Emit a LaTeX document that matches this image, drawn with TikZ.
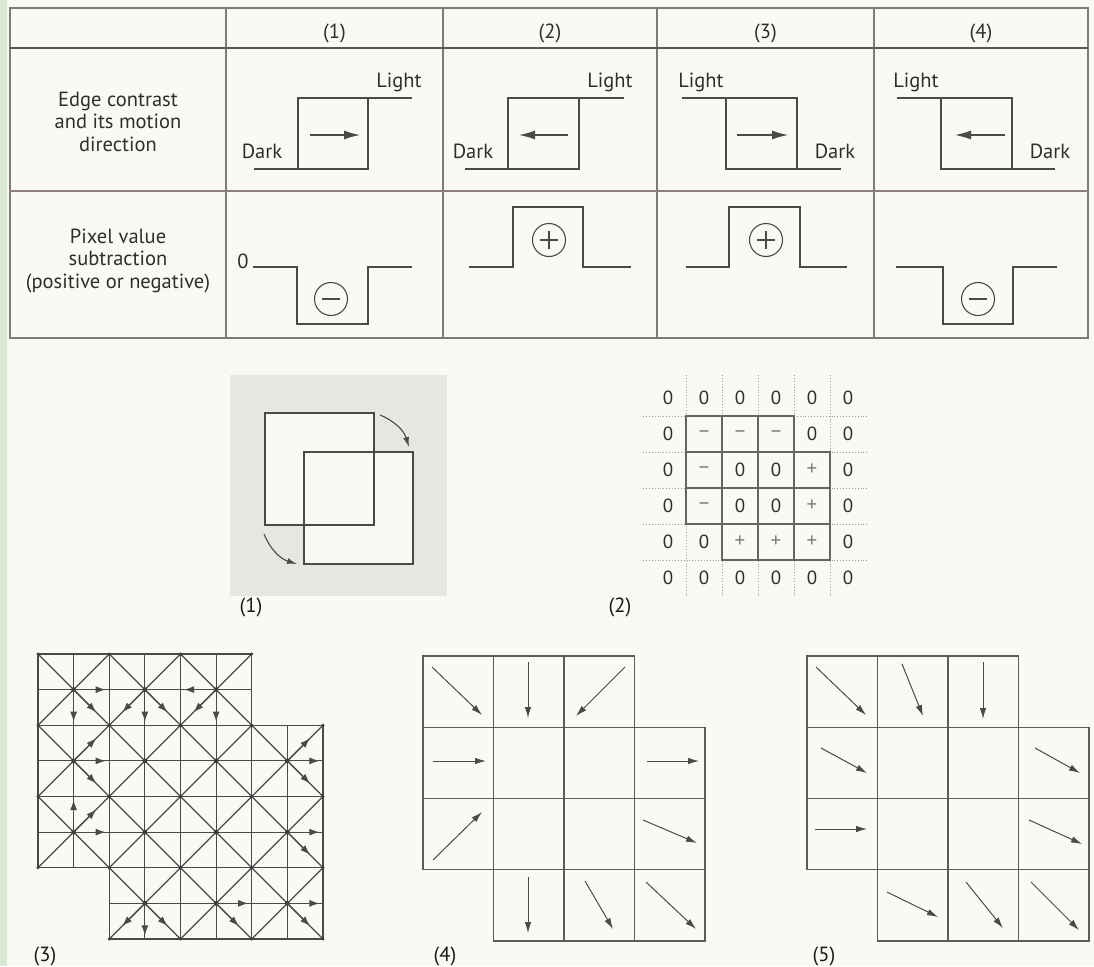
\documentclass[tikz,border=0pt]{standalone}
\usepackage{fontspec}
\setmainfont{PT Sans}
\usetikzlibrary{arrows.meta}
\definecolor{paper}{HTML}{FAFAF5}
\definecolor{strip}{HTML}{D9E8D3}
\definecolor{rule}{HTML}{7C7C7C}
\definecolor{ink}{HTML}{4A4A4A}
\definecolor{txt}{HTML}{2E2E2E}
\definecolor{ruleA}{HTML}{5E5656}
\definecolor{ruleB}{HTML}{927C84}
\definecolor{boxgray}{HTML}{E6E6E3}
\definecolor{dotc}{HTML}{9A9A9A}
\begin{document}
\begin{tikzpicture}[x=1pt,y=-1pt,
  font=\fontsize{20.5}{22.5}\selectfont, text=txt,
  tbl/.style={draw=rule, line width=1.1pt},
  stepl/.style={draw=ink, line width=1.2pt, line join=miter},
  mv/.style={-{Latex[length=16pt,width=9pt]}, draw=ink, line width=1.2pt},
  lbl/.style={anchor=base, inner sep=0pt},
  sgn/.style={draw=ink, line width=1.1pt},
  gthree/.style={draw=ink, line width=1.2pt},
  athree/.style={-{Latex[length=10pt,width=7pt]}, draw=ink, line width=1.2pt},
  gfour/.style={draw=ink!90, line width=1.2pt},
  afour/.style={-{Latex[length=11pt,width=6.5pt]}, draw=ink, line width=1pt},
  dotl/.style={draw=dotc, line width=0.9pt, dotted},
  figlbl/.style={anchor=base, inner sep=0pt, text=black!90},
  cellval/.style={anchor=center, inner sep=0pt, font=\fontsize{19}{19}\selectfont, text=txt},
  cellsign/.style={anchor=center, inner sep=0pt, font=\fontsize{21}{21}\selectfont, text=black!50}
]
% background
\fill[paper] (0,0) rectangle (1094,966);
\fill[strip] (0,0) rectangle (7,966);
\useasboundingbox (0,0) rectangle (1094,966);

% ---------------- table ----------------
\draw[tbl] (10,8) rectangle (1088,338);
\foreach \cx in {226,443,657,874} \draw[tbl] (\cx,8) -- (\cx,338);
\draw[draw=ruleA, line width=1.2pt] (10,48) -- (1088,48);
\draw[draw=ruleB, line width=1.2pt] (10,191) -- (1088,191);

\node[lbl] (h1) at (334.5,38) {(1)};
\node[lbl] (h2) at (550,38) {(2)};
\node[lbl] (h3) at (765.5,38) {(3)};
\node[lbl] (h4) at (981,38) {(4)};

\node[lbl] (ra1) at (118,106) {Edge contrast};
\node[lbl] (ra2) at (118,128.5) {and its motion};
\node[lbl] (ra3) at (118,151) {direction};
\node[lbl] (rb1) at (118,243) {Pixel value};
\node[lbl] (rb2) at (118,265.5) {subtraction};
\node[lbl] (rb3) at (118,288) {(positive or negative)};

% row 1: edges
% (1)
\draw[stepl] (254,169) -- (368,169) -- (368,98);
\draw[stepl] (298,169) -- (298,98) -- (412,98);
\draw[mv] (310,135) -- (360,135);
\node[lbl] (l1) at (399,87) {Light};
\node[lbl] (d1) at (262,158) {Dark};
% (2)
\draw[stepl] (465,169) -- (579,169) -- (579,98);
\draw[stepl] (508,169) -- (508,98) -- (624,98);
\draw[mv] (568,135) -- (519,135);
\node[lbl] (l2) at (610,87) {Light};
\node[lbl] (d2) at (473,158) {Dark};
% (3)
\draw[stepl] (682,98) -- (797,98) -- (797,169);
\draw[stepl] (726,98) -- (726,169) -- (841,169);
\draw[mv] (737,135) -- (788,135);
\node[lbl] (l3) at (701,87) {Light};
\node[lbl] (d3) at (835,158) {Dark};
% (4)
\draw[stepl] (897,98) -- (1012,98) -- (1012,169);
\draw[stepl] (941,98) -- (941,169) -- (1055,169);
\draw[mv] (1005,135) -- (955,135);
\node[lbl] (l4) at (916,87) {Light};
\node[lbl] (d4) at (1050,158) {Dark};

% row 2: subtraction
\node[lbl] (zero) at (243,268) {0};
\draw[stepl] (253,267) -- (297,267) -- (297,324) -- (368,324) -- (368,267) -- (412,267);
\draw[sgn] (331,299) circle[radius=16.5];
\draw[sgn] (322,299) -- (340,299);

\draw[stepl] (469,267) -- (513,267) -- (513,207) -- (583,207) -- (583,267) -- (631,267);
\draw[sgn] (549,240) circle[radius=16.5];
\draw[sgn] (540,240) -- (558,240) (549,231) -- (549,249);

\draw[stepl] (686,267) -- (729,267) -- (729,207) -- (800,207) -- (800,267) -- (847,267);
\draw[sgn] (766,240) circle[radius=16.5];
\draw[sgn] (757,240) -- (775,240) (766,231) -- (766,249);

\draw[stepl] (896,267) -- (943,267) -- (943,324) -- (1013,324) -- (1013,267) -- (1057,267);
\draw[sgn] (978,299) circle[radius=16.5];
\draw[sgn] (969,299) -- (987,299);

% ---------------- figure (1) ----------------
\fill[boxgray] (230,375) rectangle (447,596);
\fill[paper] (265,413) rectangle (374,525);
\fill[paper] (304,452) rectangle (413,564);
\draw[gthree] (265,413) rectangle (374,525);
\draw[gthree] (304,452) rectangle (413,564);
\coordinate (a1s) at (380,415); \coordinate (a1e) at (409,447);
\coordinate (a2s) at (264,534); \coordinate (a2e) at (297,564);
\draw[-{Latex[length=10pt,width=6pt]}, draw=ink, line width=1.1pt] (a1s) to[bend left=25] (a1e);
\draw[-{Latex[length=10pt,width=6pt]}, draw=ink, line width=1.1pt] (a2s) to[bend right=25] (a2e);
\node[figlbl] (f1) at (251,612) {(1)};

% ---------------- figure (2) ----------------
\foreach \gx in {686,722,758,794,830} \draw[dotl] (\gx,375) -- (\gx,598);
\foreach \gy in {416,452,488,524,560} \draw[dotl] (643,\gy) -- (867,\gy);
\foreach \i/\j in {1/1,2/1,3/1,1/2,2/2,3/2,4/2,1/3,2/3,3/3,4/3,2/4,3/4,4/4}
  \draw[draw=ink!85, line width=1.2pt] (650+36*\i,380+36*\j) rectangle ++(36,36);
\foreach \i/\j in {0/0,1/0,2/0,3/0,4/0,5/0, 0/1,4/1,5/1, 0/2,2/2,3/2,5/2, 0/3,2/3,3/3,5/3, 0/4,1/4,5/4, 0/5,1/5,2/5,3/5,4/5,5/5}
  \node[cellval] (v\i\j) at (668+36*\i,398+36*\j) {0};
\foreach \i/\j in {1/1,2/1,3/1,1/2,1/3}
  \node[cellsign] (v\i\j) at (668+36*\i,398+36*\j) {–};
\foreach \i/\j in {4/2,4/3,2/4,3/4,4/4}
  \node[cellsign] (v\i\j) at (668+36*\i,398+36*\j) {+};
\node[figlbl] (f2) at (620,612) {(2)};

% ---------------- figure (3) ----------------
\foreach \i/\j in {0/0,1/0,2/0,0/1,1/1,2/1,3/1,0/2,1/2,2/2,3/2,1/3,2/3,3/3}{
  \draw[gthree] (38+71.25*\i,654+71.25*\j) rectangle ++(71.25,71.25);
  \draw[gthree] (38+71.25*\i,654+71.25*\j) -- ++(71.25,71.25);
  \draw[gthree] (38+71.25*\i+71.25,654+71.25*\j) -- ++(-71.25,71.25);
  \draw[gthree] (38+71.25*\i+35.625,654+71.25*\j) -- ++(0,71.25);
  \draw[gthree] (38+71.25*\i,654+71.25*\j+35.625) -- ++(71.25,0);
  \coordinate (c\i\j) at (38+71.25*\i+35.625,654+71.25*\j+35.625);
  \fill[ink!80!black] (c\i\j) circle[radius=2.4];
}
\foreach \i in {0,...,3} \foreach \j in {0,...,3}
  \fill[ink!80!black] (38+71.25*\i,654+71.25*\j) circle[radius=1.7];
\foreach \i in {1,...,4} \foreach \j in {1,...,4}
  \fill[ink!80!black] (38+71.25*\i,654+71.25*\j) circle[radius=1.7];
% arrows
\draw[athree] (c00) -- ++(32,0);
\draw[athree] (c00) -- ++(22.6,22.6);
\draw[athree] (c00) -- ++(0,32);
\draw[athree] (c10) -- ++(-22.6,22.6);
\draw[athree] (c10) -- ++(0,32);
\draw[athree] (c10) -- ++(22.6,22.6);
\draw[athree] (c20) -- ++(-32,0);
\draw[athree] (c20) -- ++(-22.6,22.6);
\draw[athree] (c20) -- ++(0,32);
\draw[athree] (c01) -- ++(22.6,-22.6);
\draw[athree] (c01) -- ++(32,0);
\draw[athree] (c01) -- ++(22.6,22.6);
\draw[athree] (c31) -- ++(22.6,-22.6);
\draw[athree] (c31) -- ++(32,0);
\draw[athree] (c31) -- ++(22.6,22.6);
\draw[athree] (c02) -- ++(0,-32);
\draw[athree] (c02) -- ++(22.6,-22.6);
\draw[athree] (c02) -- ++(32,0);
\draw[athree] (c32) -- ++(32,0);
\draw[athree] (c32) -- ++(22.6,22.6);
\draw[athree] (c13) -- ++(-22.6,22.6);
\draw[athree] (c13) -- ++(0,32);
\draw[athree] (c13) -- ++(22.6,22.6);
\draw[athree] (c23) -- ++(32,0);
\draw[athree] (c23) -- ++(22.6,22.6);
\draw[athree] (c33) -- ++(32,0);
\draw[athree] (c33) -- ++(22.6,22.6);
\node[figlbl] (f3) at (45,961) {(3)};

% ---------------- figure (4) ----------------
\foreach \i/\j in {0/0,1/0,2/0,0/1,1/1,2/1,3/1,0/2,1/2,2/2,3/2,1/3,2/3,3/3}
  \draw[gfour] (423+70.5*\i,656+71.25*\j) rectangle ++(70.5,71.25);
\draw[afour] (432,667) -- (482,715);
\draw[afour] (528,662) -- (528,718);
\draw[afour] (625,667) -- (576,716);
\draw[afour] (433,761) -- (486,761);
\draw[afour] (647,761) -- (699,761);
\draw[afour] (433,860) -- (482,812);
\draw[afour] (643,820) -- (697,843);
\draw[afour] (528,877) -- (528,933);
\draw[afour] (585,881) -- (613,929);
\draw[afour] (646,882) -- (696,929);
\node[figlbl] (f4) at (445,961) {(4)};

% ---------------- figure (5) ----------------
\foreach \i/\j in {0/0,1/0,2/0,0/1,1/1,2/1,3/1,0/2,1/2,2/2,3/2,1/3,2/3,3/3}
  \draw[gfour] (807+70.5*\i,656+71.25*\j) rectangle ++(70.5,71.25);
\draw[afour] (816,667) -- (866,715);
\draw[afour] (902,664) -- (923,716);
\draw[afour] (983,662) -- (983,719);
\draw[afour] (821,748) -- (867,773);
\draw[afour] (1035,748) -- (1080,773);
\draw[afour] (815,829) -- (867,829);
\draw[afour] (1029,820) -- (1082,844);
\draw[afour] (887,892) -- (938,917);
\draw[afour] (966,882) -- (1003,928);
\draw[afour] (1031,882) -- (1079,930);
\node[figlbl] (f5) at (824,961) {(5)};
\end{tikzpicture}
\end{document}
